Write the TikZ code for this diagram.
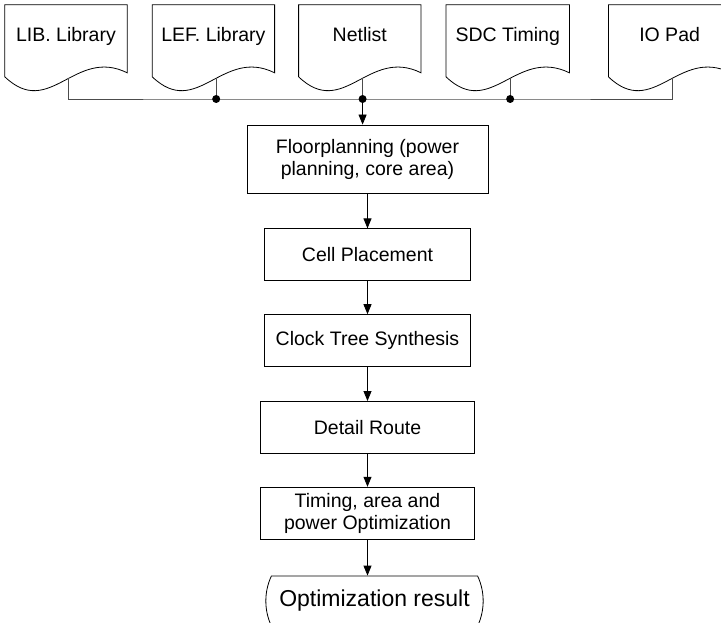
\documentclass[tikz,border=0pt]{standalone}
\usepackage{fontspec}
\setmainfont{Liberation Sans}
\usepackage{xcolor}
\usepackage{tikz}
\usetikzlibrary{shapes.misc, arrows.meta, positioning, calc}

\begin{document}
\begin{tikzpicture}[
  x=1pt, y=1pt,
  doc/.style={rectangle, minimum width=122pt, minimum height=64pt, inner sep=0pt, text height=14pt, text depth=4pt, font=\fontsize{19.5}{22}\selectfont},
  box/.style={rectangle, draw, align=center, minimum height=52pt, line width=0.8pt, font=\fontsize{19.5}{22}\selectfont},
  term/.style={rounded rectangle, rounded rectangle arc length=50, draw, minimum width=224pt, minimum height=50pt, line width=0.8pt, font=\fontsize{23}{27}\selectfont},
  arr/.style={-{Triangle[length=10pt, width=8pt]}, line width=0.8pt},
  bus/.style={line width=0.8pt, black!70},
  dot/.style={circle, fill, inner sep=0pt, minimum size=8pt}
]
  \useasboundingbox (0,0) rectangle (721,-623);
  % input files
  \node[doc] (lib) at (66,-37) {LIB. Library};
  \node[doc, right=25pt of lib] (lef) {LEF. Library};
  \node[doc, right=24pt of lef] (net) {Netlist};
  \node[doc, right=25pt of net, minimum width=123pt] (sdc) {SDC Timing};
  \node[doc, right=39pt of sdc] (io) {IO Pad};
  \foreach \n in {lib, lef, net, sdc, io}
    \draw[line width=0.8pt] (\n.north west) -- ($(\n.north west)+(0,-72)$)
      .. controls ($(\n.north west)+(45,-115)$) and ($(\n.north west)+(70,-42)$) .. ($(\n.north east)+(0,-68)$)
      coordinate[pos=0.55] (\n-w) -- (\n.north east) -- cycle;

  % flow
  \node[box, minimum width=241pt, minimum height=68pt] (floor) at (367.5,-159) {Floorplanning (power\\planning, core area)};
  \node[box, minimum width=206pt, below=35pt of floor] (place) {Cell Placement};
  \node[box, minimum width=206pt, below=33pt of place] (cts) {Clock Tree Synthesis};
  \node[box, minimum width=214pt, below=34pt of cts] (route) {Detail Route};
  \node[box, minimum width=214pt, below=33pt of route] (opt) {Timing, area and\\power Optimization};
  \node[term, below=36pt of opt, xshift=7pt] (result) {Optimization result};

  % bus
  \coordinate (busy) at (0,-99);
  \coordinate (j1) at (lef-w |- busy);
  \coordinate (j2) at (net-w |- busy);
  \coordinate (j3) at (sdc-w |- busy);
  \draw[bus] (lib-w) |- (j1) -- (j2) -- (j3) -| (io-w);
  \draw[bus] (lef-w) -- (j1);
  \draw[bus] (net-w) -- (j2);
  \draw[bus] (sdc-w) -- (j3);
  \node[dot] (d1) at (j1) {};
  \node[dot] (d2) at (j2) {};
  \node[dot] (d3) at (j3) {};

  \draw[arr] (d2.center) -- (d2 |- floor.north);
  \draw[arr] (floor) -- (place);
  \draw[arr] (place) -- (cts);
  \draw[arr] (cts) -- (route);
  \draw[arr] (route) -- (opt);
  \draw[arr] (opt) -- (opt |- result.north);
\end{tikzpicture}
\end{document}
